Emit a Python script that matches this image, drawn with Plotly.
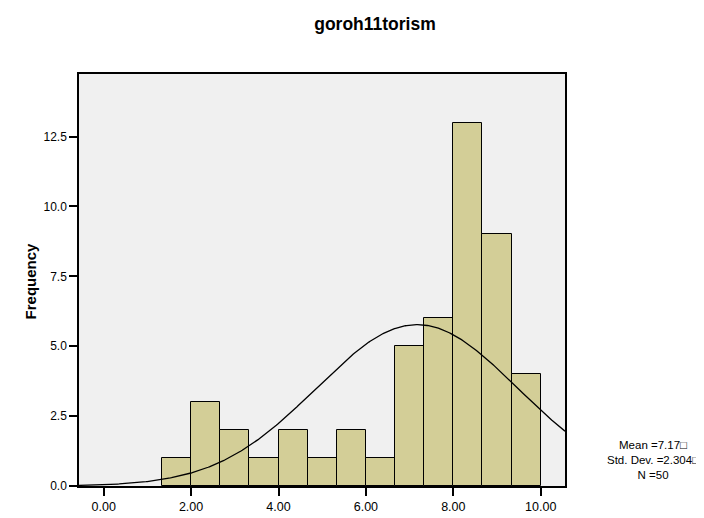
import numpy as np
import plotly.graph_objects as go

title = "goroh11torism"
y_title = "Frequency"
counts = [1, 3, 2, 1, 2, 1, 2, 1, 5, 6, 13, 9, 4]
bin_start = 4 / 3
bin_width = 2 / 3
mean = 7.17
std = 2.304
n = 50
x_ticks = [0, 2, 4, 6, 8, 10]
x_tick_labels = ["0.00", "2.00", "4.00", "6.00", "8.00", "10.00"]
y_ticks = [0, 2.5, 5, 7.5, 10, 12.5]
y_tick_labels = ["0.0", "2.5", "5.0", "7.5", "10.0", "12.5"]
stats_text = ["Mean =7.17\u25a1", "Std. Dev. =2.304\u25a1", "N =50"]

x_range = [-0.565, 10.556]
y_range = [0, 14.74]

centers = [bin_start + bin_width * (i + 0.5) for i in range(len(counts))]

xc = np.linspace(x_range[0], x_range[1], 400)
yc = n * bin_width / (std * np.sqrt(2 * np.pi)) * np.exp(-0.5 * ((xc - mean) / std) ** 2)

font_family = "Liberation Sans, Arial, sans-serif"

W, H = 704, 518
L, R, T, B = 71, 557, 66, 493
pw, ph = R - L, B - T

fig = go.Figure()
fig.add_trace(go.Bar(
    x=centers, y=counts, width=bin_width,
    marker=dict(color="#D3CE97", line=dict(color="black", width=1)),
    hoverinfo="skip",
))
fig.add_trace(go.Scatter(
    x=xc, y=yc, mode="lines", line=dict(color="black", width=1.3),
    hoverinfo="skip",
))

fig.update_layout(
    width=W, height=H,
    margin=dict(l=L, r=W - R, t=T, b=H - B),
    paper_bgcolor="white", plot_bgcolor="#F0F0F0",
    showlegend=False,
    font=dict(family=font_family, size=12, color="black"),
    title=dict(text="<b>" + title + "</b>", x=367 / W, xanchor="center",
               y=1 - 16 / H, yanchor="middle",
               font=dict(size=17.5, family=font_family, color="black")),
    bargap=0,
)
fig.update_xaxes(
    range=x_range, tickmode="array", tickvals=x_ticks, ticktext=x_tick_labels,
    ticks="outside", ticklen=8, tickwidth=1.5, tickcolor="black",
    showline=True, linecolor="black", linewidth=1.5, mirror=True,
    showgrid=False, zeroline=False, tickfont=dict(size=12.5),
)
fig.update_yaxes(
    range=y_range, tickmode="array", tickvals=y_ticks, ticktext=y_tick_labels,
    ticks="outside", ticklen=8, tickwidth=1.5, tickcolor="black",
    showline=True, linecolor="black", linewidth=1.5, mirror=True,
    showgrid=False, zeroline=False, tickfont=dict(size=12),
)

fig.add_annotation(
    text="<b>" + y_title + "</b>", xref="paper", yref="paper",
    x=(22 - L) / pw, y=(B - 281) / ph, textangle=-90,
    showarrow=False, xanchor="center", yanchor="middle",
    font=dict(size=15, family=font_family, color="black"),
)
fig.add_annotation(
    text="<br>".join(stats_text), xref="paper", yref="paper",
    x=(645 - L) / pw, y=(B - 466) / ph, showarrow=False,
    xanchor="center", yanchor="middle", align="center",
    font=dict(size=11.5, family=font_family, color="black"),
)

fig.write_html("out.html")
